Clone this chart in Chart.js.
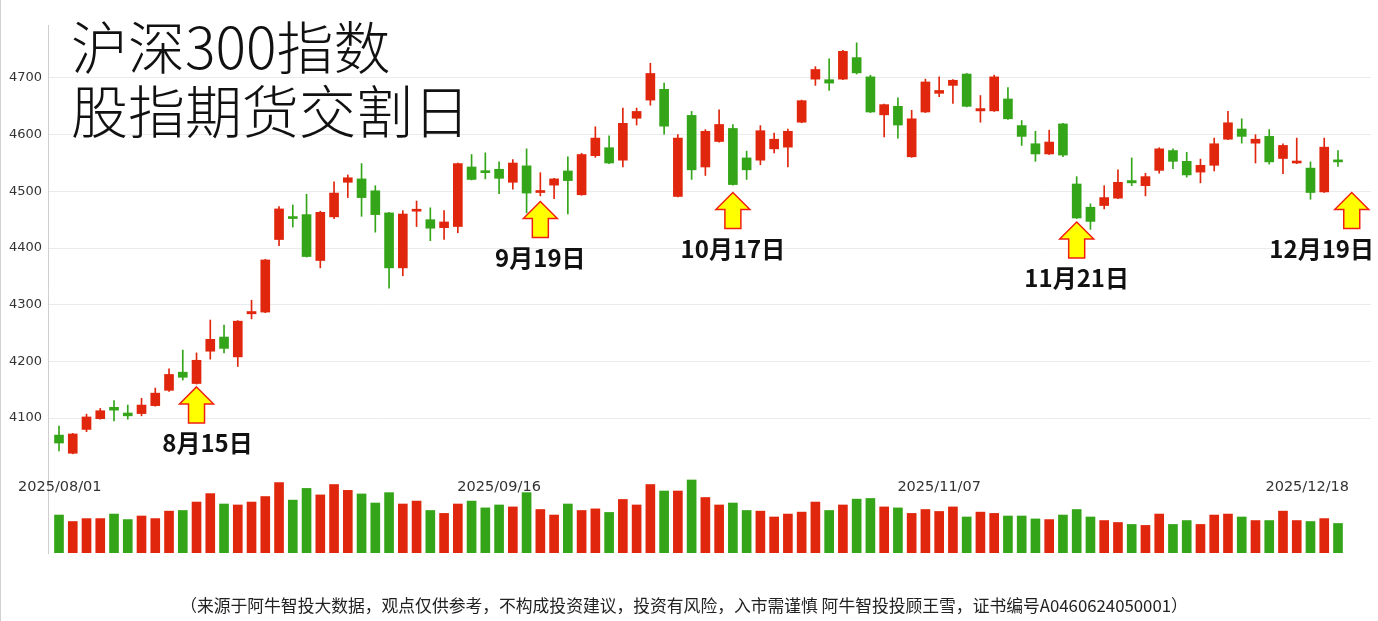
<!DOCTYPE html>
<html>
<head>
<meta charset="utf-8">
<script src="https://cdn.jsdelivr.net/npm/chart.js@4"></script>
<style>
  html, body { margin: 0; padding: 0; background: #fff; }
  body { width: 1378px; height: 621px; position: relative; overflow: hidden; border-left: 1px solid #d0d0d0; box-sizing: border-box; }
  #c { position: absolute; left: 0; top: 0; }
  .title { position: absolute; left: 70px; top: 12px; font-family: 'Noto Sans CJK SC', sans-serif; font-weight: 300; font-size: 57px; line-height: 64px; color: #111; }
  .foot { position: absolute; left: 0; width: 1366px; top: 593px; text-align: center; font-family: 'Noto Sans CJK SC', sans-serif; font-size: 16.8px; color: #222; }
</style>
</head>
<body>
<canvas id="c" width="1378" height="621"></canvas>
<div class="title">沪深300指数<br>股指期货交割日</div>
<div class="foot">（来源于阿牛智投大数据，观点仅供参考，不构成投资建议，投资有风险，入市需谨慎 阿牛智投投顾王雪，证书编号A0460624050001）</div>
<script>
'use strict';

/* ====== daily OHLC, 2025/08/01 - 2025/12/18 ====== */
const opens = [4070,4038,4080,4099,4119,4109,4108,4122,4149,4181,4161,4218,4243,4208,4284,4287,4415,4454,4459,4378,
  4455,4516,4522,4501,4462,4365,4465,4450,4436,4438,4543,4535,4539,4516,4545,4498,4511,4536,4494,4563,
  4577,4555,4629,4661,4680,4491,4634,4543,4588,4611,4559,4555,4575,4578,4622,4698,4697,4698,4736,4702,
  4635,4650,4561,4640,4673,4687,4707,4642,4642,4663,4616,4584,4566,4619,4513,4472,4475,4488,4519,4510,
  4537,4572,4553,4534,4546,4592,4610,4585,4597,4558,4550,4541,4499,4554];
const closes = [4056,4072,4102,4113,4114,4104,4123,4144,4177,4172,4202,4239,4223,4271,4288,4379,4469,4452,4385,4463,
  4497,4524,4489,4459,4365,4460,4468,4435,4446,4549,4521,4533,4523,4550,4497,4501,4522,4519,4565,4594,
  4550,4620,4641,4708,4615,4594,4538,4606,4618,4512,4538,4607,4592,4606,4660,4715,4691,4747,4709,4640,
  4653,4617,4628,4693,4678,4696,4650,4646,4702,4628,4597,4566,4587,4564,4453,4447,4489,4516,4515,4526,
  4575,4553,4529,4546,4584,4621,4597,4592,4552,4581,4552,4498,4578,4552];
const highs = [4086,4073,4107,4117,4131,4123,4135,4153,4187,4220,4215,4273,4264,4272,4308,4380,4473,4476,4495,4465,
  4517,4529,4549,4510,4463,4466,4483,4471,4466,4550,4565,4568,4552,4556,4575,4533,4523,4561,4567,4614,
  4598,4647,4647,4726,4691,4600,4641,4609,4644,4618,4571,4616,4603,4610,4661,4720,4734,4749,4762,4705,
  4654,4665,4643,4698,4702,4697,4708,4669,4705,4683,4625,4606,4608,4620,4526,4478,4510,4538,4559,4532,
  4577,4575,4569,4557,4594,4641,4628,4600,4609,4584,4594,4552,4594,4572];
const lows = [4042,4037,4076,4098,4095,4098,4104,4121,4147,4167,4160,4204,4215,4191,4275,4286,4404,4437,4384,4365,
  4452,4489,4456,4428,4329,4351,4438,4413,4415,4427,4520,4522,4496,4504,4462,4492,4487,4460,4493,4560,
  4549,4543,4617,4652,4601,4490,4521,4528,4587,4511,4521,4547,4568,4543,4621,4687,4678,4697,4707,4639,
  4596,4594,4560,4639,4667,4655,4649,4622,4641,4627,4581,4553,4565,4561,4452,4433,4469,4487,4510,4492,
  4532,4540,4525,4515,4536,4591,4585,4550,4548,4531,4549,4486,4498,4544];
const volumes = [117,97,106,106,120,103,114,106,129,131,157,183,151,148,157,174,217,163,199,179,
  211,193,182,154,186,151,160,131,122,151,160,139,148,142,186,134,117,151,131,136,
  125,165,148,211,191,191,225,171,148,154,131,129,111,120,126,157,131,148,166,168,
  142,139,122,134,128,142,111,126,122,114,114,105,103,117,134,111,100,94,88,85,
  120,88,100,88,117,120,111,100,100,129,100,97,106,91];

/* axis date labels and delivery-day markers */
const dateLabels = ['2025/08/01', '2025/09/16', '2025/11/07', '2025/12/18'];
const dateIdx = [0, 32, 64, 93];
const eventText = ['8月15日', '9月19日', '10月17日', '11月21日', '12月19日'];
const eventIdx = [10, 35, 49, 74, 94];
const eventPrice = [4155, 4482, 4498, 4446, 4498];

const RED = '#e0260c';
const GREEN = '#34a518';
const isUp = opens.map((o, i) => closes[i] >= o);
const colors = isUp.map(u => u ? RED : GREEN);

const bodies = opens.map((o, i) => ({ x: i, y: [o, closes[i]] }));
const wicks = highs.map((h, i) => ({ x: i, y: [lows[i], h] }));
const vols = volumes.map((v, i) => ({ x: i, y: v }));

const overlayPlugin = {
  id: 'overlay',
  afterDatasetsDraw(chart) {
    const { ctx, scales: { x, y } } = chart;
    ctx.save();
    // date labels on volume panel
    ctx.font = '14.5px "DejaVu Sans", sans-serif';
    ctx.fillStyle = '#333';
    ctx.textBaseline = 'middle';
    ctx.textAlign = 'center';
    dateLabels.forEach((t, k) => {
      const w = ctx.measureText(t).width;
      let cx = x.getPixelForValue(dateIdx[k]);
      cx = Math.min(cx, 1348 - w / 2);
      cx = Math.max(cx, 17 + w / 2);
      ctx.fillText(t, cx, 487);
    });
    // arrows
    eventIdx.forEach((idx, k) => {
      const cx = x.getPixelForValue(idx);
      const ty = y.getPixelForValue(eventPrice[k]);
      ctx.beginPath();
      ctx.moveTo(cx, ty);
      ctx.lineTo(cx + 17, ty + 17);
      ctx.lineTo(cx + 8, ty + 17);
      ctx.lineTo(cx + 8, ty + 36);
      ctx.lineTo(cx - 8, ty + 36);
      ctx.lineTo(cx - 8, ty + 17);
      ctx.lineTo(cx - 17, ty + 17);
      ctx.closePath();
      ctx.fillStyle = '#ffff00';
      ctx.fill();
      ctx.strokeStyle = '#f02010';
      ctx.lineWidth = 1.5;
      ctx.stroke();
      ctx.font = 'bold 24px "Noto Sans CJK SC", sans-serif';
      ctx.fillStyle = '#111';
      const w = ctx.measureText(eventText[k]).width;
      let lx = cx + (k === 0 ? 11 : 0);
      lx = Math.min(lx, 1373 - w / 2);
      ctx.fillText(eventText[k], lx, ty + 56);
    });
    ctx.restore();
  }
};

new Chart(document.getElementById('c'), {
  data: {
    datasets: [
      { type: 'bar', data: bodies, backgroundColor: colors, barThickness: 9, minBarLength: 2, grouped: false, yAxisID: 'y' },
      { type: 'bar', data: wicks, backgroundColor: colors, barThickness: 1, grouped: false, yAxisID: 'y' },
      { type: 'bar', data: vols, backgroundColor: colors, barThickness: 9, grouped: false, yAxisID: 'yVol' }
    ]
  },
  options: {
    responsive: false,
    animation: false,
    layout: { padding: { top: 25, right: 8, bottom: 68, left: 0 } },
    plugins: { legend: { display: false }, tooltip: { enabled: false } },
    scales: {
      x: { type: 'linear', min: -0.8, max: 95.4, offset: false, bounds: 'ticks', display: false },
      y: {
        position: 'left',
        min: 3862, max: 4793.5,
        afterBuildTicks: s => { s.ticks = [4100, 4200, 4300, 4400, 4500, 4600, 4700].map(v => ({ value: v })); },
        afterFit: s => { s.width = 47; },
        ticks: { color: '#333', font: { size: 13, family: 'DejaVu Sans' }, padding: 6, callback: v => String(v) },
        grid: { color: '#e9ecef', drawTicks: false },
        border: { color: '#cfcfcf' }
      },
      yVol: { display: false, min: 0, max: 1627 }
    }
  },
  plugins: [overlayPlugin]
});
</script>
</body>
</html>
